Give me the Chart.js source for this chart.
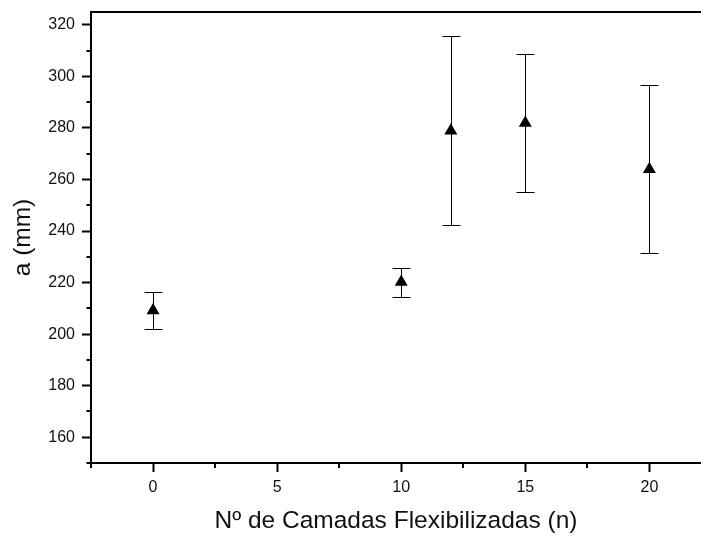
<!DOCTYPE html>
<html>
<head>
<meta charset="utf-8">
<script src="https://cdn.jsdelivr.net/npm/chart.js@4/dist/chart.umd.min.js"></script>
<style>
  html, body { margin: 0; padding: 0; background: #fff; overflow: hidden; }
</style>
</head>
<body>
<canvas id="chart" width="701" height="537"></canvas>
<script>
// values
const nCamadas = [0, 10, 12, 15, 20];
const aMedia = [209.2, 220.2, 278.9, 281.9, 264.0];
const aErro = [7.1, 5.6, 36.7, 26.8, 32.5];

const xTitle = 'Nº de Camadas Flexibilizadas (n)';
const yTitle = 'a (mm)';

const FONT = 'Liberation Sans, Arial, sans-serif';
const isMajor = (v, step) => Math.abs(v / step - Math.round(v / step)) < 1e-6;

// fixed axis sizes, no extra room for labels at the ends
const fixSize = (s, size) => {
  if (s.isHorizontal()) s.height = size; else s.width = size;
  s.paddingTop = s.paddingBottom = s.paddingLeft = s.paddingRight = 0;
};

// error bars, minor ticks and the top frame line
const extras = {
  id: 'extras',
  beforeDatasetsDraw(chart) {
    const { ctx, scales: { x, y } } = chart;
    ctx.save();
    ctx.strokeStyle = '#000';
    ctx.lineWidth = 1;
    nCamadas.forEach((n, i) => {
      const px = Math.round(x.getPixelForValue(n)) + 0.5;
      const top = Math.round(y.getPixelForValue(aMedia[i] + aErro[i])) + 0.5;
      const bot = Math.round(y.getPixelForValue(aMedia[i] - aErro[i])) + 0.5;
      ctx.beginPath();
      ctx.moveTo(px, top); ctx.lineTo(px, bot);
      ctx.moveTo(px - 9, top); ctx.lineTo(px + 9, top);
      ctx.moveTo(px - 9, bot); ctx.lineTo(px + 9, bot);
      ctx.stroke();
    });
    ctx.restore();
  },
  afterDraw(chart) {
    const { ctx, chartArea, scales: { x, y } } = chart;
    ctx.save();
    ctx.strokeStyle = '#000';
    ctx.lineWidth = 2;
    ctx.beginPath();
    y.ticks.forEach(t => {
      if (isMajor(t.value, 20)) return;
      const py = Math.round(y.getPixelForValue(t.value));
      ctx.moveTo(chartArea.left - 4.5, py); ctx.lineTo(chartArea.left, py);
    });
    x.ticks.forEach(t => {
      if (isMajor(t.value, 5)) return;
      const px = Math.round(x.getPixelForValue(t.value));
      ctx.moveTo(px, chartArea.bottom); ctx.lineTo(px, chartArea.bottom + 5);
    });
    // top frame line; the right side of the frame falls outside the picture
    ctx.moveTo(chartArea.left - 1, Math.round(chartArea.top));
    ctx.lineTo(chartArea.right, Math.round(chartArea.top));
    ctx.stroke();
    ctx.restore();
  }
};

new Chart(document.getElementById('chart'), {
  type: 'scatter',
  data: {
    datasets: [{
      data: nCamadas.map((n, i) => ({ x: n, y: aMedia[i] })),
      pointStyle: 'triangle',
      pointRadius: 7.5,
      pointHoverRadius: 7.5,
      backgroundColor: '#000',
      borderColor: '#000',
      borderWidth: 0
    }]
  },
  options: {
    responsive: false,
    animation: false,
    layout: { autoPadding: false, padding: { top: 12, right: 0, left: 0, bottom: 0 } },
    plugins: { legend: { display: false }, tooltip: { enabled: false } },
    scales: {
      x: {
        type: 'linear',
        min: -2.5,
        max: 22.08,
        afterFit: s => fixSize(s, 74),
        border: { display: true, color: '#000', width: 2 },
        grid: {
          drawOnChartArea: false,
          tickLength: 9,
          tickWidth: 2,
          tickColor: c => isMajor(c.tick.value, 5) ? '#000' : 'rgba(0,0,0,0)'
        },
        ticks: {
          stepSize: 2.5,
          includeBounds: false,
          autoSkip: false,
          maxRotation: 0,
          padding: 6,
          color: '#111',
          font: { family: FONT, size: 16 },
          callback: v => isMajor(v, 5) ? String(Math.round(v)) : ''
        },
        title: {
          display: true,
          text: xTitle,
          color: '#111',
          font: { family: FONT, size: 24.5 },
          padding: { top: 0, bottom: 1.5 }
        }
      },
      y: {
        min: 150,
        max: 325,
        afterFit: s => fixSize(s, 91),
        border: { display: true, color: '#000', width: 2 },
        grid: {
          drawOnChartArea: false,
          tickLength: 9,
          tickWidth: 2,
          tickColor: c => isMajor(c.tick.value, 20) ? '#000' : 'rgba(0,0,0,0)'
        },
        ticks: {
          stepSize: 10,
          includeBounds: false,
          autoSkip: false,
          padding: 7,
          color: '#111',
          font: { family: FONT, size: 16 },
          callback: v => isMajor(v, 20) ? String(v) : ''
        },
        title: {
          display: true,
          text: yTitle,
          color: '#111',
          font: { family: FONT, size: 24.5 },
          padding: { top: 9, bottom: 0 }
        }
      }
    }
  },
  plugins: [extras]
});
</script>
</body>
</html>
